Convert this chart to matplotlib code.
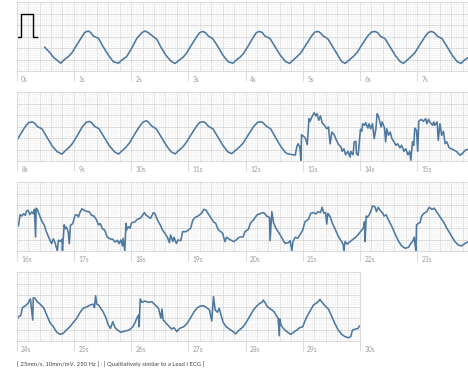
import matplotlib
matplotlib.use('Agg')
import matplotlib.pyplot as plt
from matplotlib.ticker import MultipleLocator
from matplotlib.transforms import offset_copy

# calibration pulse: 1 mV for 0.2 s
pulse_t = [0.0, 0.08, 0.08, 0.28, 0.28, 0.36]
pulse_mv = [0.0, 0.0, 1.0, 1.0, 0.0, 0.0]

# strip 1 (0-8 s)
strip1_t = [0.49, 0.58, 0.64, 0.70, 0.77, 0.84, 0.90, 0.96, 1.05, 1.14, 1.19, 1.25, 1.29, 1.34, 1.43,
            1.51, 1.60, 1.69, 1.78, 1.84, 1.92, 2.01, 2.10, 2.19, 2.24, 2.30, 2.39, 2.45, 2.52, 2.61,
            2.70, 2.77, 2.84, 2.91, 2.97, 3.06, 3.15, 3.20, 3.25, 3.30, 3.35, 3.43, 3.52, 3.61, 3.70,
            3.78, 3.85, 3.91, 3.97, 4.06, 4.14, 4.19, 4.24, 4.29, 4.34, 4.43, 4.52, 4.61, 4.70, 4.77,
            4.84, 4.90, 4.97, 5.06, 5.15, 5.21, 5.27, 5.31, 5.36, 5.44, 5.53, 5.62, 5.68, 5.74, 5.81,
            5.88, 5.95, 6.04, 6.13, 6.20, 6.26, 6.31, 6.36, 6.44, 6.53, 6.62, 6.70, 6.76, 6.83, 6.89,
            6.96, 7.05, 7.14, 7.20, 7.25, 7.30, 7.35, 7.44, 7.53, 7.62, 7.70, 7.77, 7.83, 7.89]
strip1_mv = [-0.47, -0.70, -0.90, -1.02, -1.16, -0.99, -0.88, -0.73, -0.37, -0.01, 0.18, 0.24, 0.18, 0.02, -0.08,
             -0.44, -0.80, -1.10, -1.16, -1.02, -0.88, -0.51, -0.08, 0.17, 0.24, 0.17, -0.01, -0.12, -0.46, -0.82,
             -1.08, -1.17, -1.03, -0.90, -0.72, -0.35, 0.00, 0.17, 0.22, 0.17, 0.02, -0.10, -0.45, -0.83, -1.10,
             -1.16, -1.00, -0.89, -0.72, -0.36, -0.02, 0.17, 0.22, 0.18, 0.02, -0.09, -0.46, -0.82, -1.09, -1.17,
             -1.01, -0.88, -0.70, -0.35, 0.00, 0.19, 0.22, 0.16, 0.02, -0.10, -0.47, -0.84, -1.08, -1.17, -1.03,
             -0.88, -0.70, -0.34, 0.00, 0.19, 0.22, 0.17, 0.01, -0.10, -0.46, -0.83, -1.08, -1.17, -1.02, -0.88,
             -0.71, -0.35, 0.00, 0.18, 0.22, 0.17, 0.02, -0.10, -0.47, -0.84, -1.09, -1.17, -1.02, -0.92]

# strip 2 (8-16 s)
strip2_t = [8.00, 8.08, 8.15, 8.21, 8.27, 8.31, 8.36, 8.44, 8.53, 8.62, 8.71, 8.79, 8.85, 8.92, 8.98,
            9.07, 9.15, 9.21, 9.27, 9.31, 9.36, 9.44, 9.53, 9.62, 9.71, 9.78, 9.85, 9.91, 9.97, 10.06,
            10.15, 10.21, 10.27, 10.31, 10.36, 10.44, 10.53, 10.62, 10.70, 10.77, 10.84, 10.90, 10.96, 11.05, 11.14,
            11.20, 11.26, 11.30, 11.35, 11.43, 11.52, 11.61, 11.69, 11.76, 11.83, 11.89, 11.96, 12.05, 12.14, 12.21,
            12.27, 12.31, 12.36, 12.44, 12.53, 12.62, 12.69, 12.72, 12.80, 12.87,
            12.90, 12.92, 12.95, 12.97, 12.98, 13.03, 13.05, 13.08, 13.11, 13.13, 13.16, 13.20, 13.23, 13.25, 13.28,
            13.31, 13.34, 13.38, 13.42, 13.45, 13.48, 13.51, 13.55, 13.59, 13.63, 13.67, 13.69, 13.72, 13.75, 13.79,
            13.83, 13.84, 13.88, 13.90, 13.93, 13.94, 13.97, 14.01, 14.03, 14.05, 14.08, 14.10, 14.14, 14.16, 14.19,
            14.22, 14.25, 14.28, 14.30, 14.33, 14.37, 14.39, 14.43, 14.45, 14.47, 14.50, 14.53, 14.56, 14.59, 14.63,
            14.66, 14.70, 14.73, 14.77, 14.80, 14.84, 14.87, 14.89, 14.92, 14.94, 14.96, 14.99, 15.01, 15.03, 15.07,
            15.11, 15.15, 15.17, 15.20, 15.23, 15.27, 15.29, 15.31, 15.35, 15.37, 15.40, 15.43, 15.46, 15.49, 15.52,
            15.56, 15.60, 15.65, 15.70, 15.75, 15.79, 15.84, 15.89]
strip2_mv = [-0.62, -0.28, 0.00, 0.17, 0.20, 0.15, 0.00, -0.10, -0.47, -0.85, -1.10, -1.20, -1.05, -0.90, -0.72,
             -0.35, 0.00, 0.17, 0.22, 0.16, 0.01, -0.10, -0.47, -0.84, -1.10, -1.20, -1.04, -0.90, -0.72, -0.34,
             0.01, 0.20, 0.25, 0.17, 0.02, -0.10, -0.47, -0.84, -1.10, -1.19, -1.03, -0.90, -0.71, -0.35, 0.00,
             0.18, 0.21, 0.16, 0.01, -0.10, -0.47, -0.84, -1.10, -1.18, -1.03, -0.90, -0.72, -0.36, -0.01, 0.18,
             0.21, 0.16, 0.02, -0.10, -0.50, -0.88, -1.11, -1.17, -1.22, -1.24,
             -0.85, -0.75, -0.89, -1.47, -0.36, -0.46, -0.53, -0.79, 0.34, 0.23, 0.41, 0.60, 0.46, 0.56, 0.27,
             0.46, 0.17, 0.05, -0.10, -0.02, -0.75, -0.24, -0.36, -0.60, -0.79, -0.89, -1.08, -0.97, -1.23, -1.08,
             -1.33, -1.08, -1.23, -0.67, -0.64, -1.18, -1.25, -0.12, -0.21, 0.12, 0.05, 0.17, -0.07, 0.12, -0.10,
             0.12, -0.53, -0.10, 0.56, 0.40, -0.02, 0.20, -0.07, -0.67, -0.10, -0.38, -0.24, -0.53, -0.64, -0.82,
             -0.75, -0.93, -0.82, -1.08, -0.97, -1.23, -1.08, -1.47, -0.67, -0.82, -0.07, -0.17, -1.08, 0.23, 0.31,
             0.23, 0.34, 0.12, 0.31, 0.17, 0.05, 0.20, 0.05, 0.20, -0.60, 0.12, -0.38, -0.21, -0.75, -0.67,
             -0.93, -0.97, -1.03, -1.11, -1.25, -1.18, -1.03, -0.99]

# strip 3 (16-24 s)
strip3_t = [16.01, 16.03, 16.06, 16.09, 16.12, 16.15, 16.17, 16.20, 16.23, 16.26, 16.29, 16.31, 16.33, 16.34, 16.36,
            16.40, 16.44, 16.48, 16.52, 16.57, 16.61, 16.64, 16.67, 16.71, 16.73, 16.76, 16.79, 16.80, 16.83, 16.85,
            16.87, 16.90, 16.92, 16.94, 16.98, 17.02, 17.05, 17.08, 17.11, 17.14, 17.18, 17.22, 17.27, 17.31, 17.35,
            17.39, 17.43, 17.46, 17.50, 17.54, 17.58, 17.63, 17.68, 17.72, 17.76, 17.79, 17.82, 17.85, 17.86, 17.89,
            17.91, 17.92, 17.95, 17.98, 18.01, 18.07, 18.11, 18.16, 18.19, 18.23, 18.26, 18.30, 18.34, 18.39, 18.42,
            18.46, 18.51, 18.55, 18.59, 18.63, 18.67, 18.69, 18.73, 18.75, 18.79, 18.82, 18.87, 18.90, 18.96, 19.00,
            19.04, 19.08, 19.12, 19.17, 19.23, 19.27, 19.31, 19.35, 19.39, 19.44, 19.48, 19.52, 19.57, 19.60, 19.64,
            19.67, 19.72, 19.76, 19.80, 19.85, 19.89, 19.96, 19.99, 20.05, 20.09, 20.14, 20.20, 20.27, 20.32, 20.37,
            20.42, 20.43, 20.46, 20.49, 20.53, 20.59, 20.65, 20.69, 20.75, 20.78, 20.81, 20.83, 20.87, 20.91, 20.95,
            21.00, 21.04, 21.10, 21.14, 21.19, 21.23, 21.27, 21.31, 21.34, 21.37, 21.40, 21.42, 21.44, 21.48, 21.52,
            21.56, 21.62, 21.68, 21.71, 21.72, 21.74, 21.78, 21.83, 21.88, 21.95, 22.01, 22.06, 22.08, 22.09, 22.11,
            22.13, 22.16, 22.19, 22.22, 22.26, 22.29, 22.32, 22.35, 22.40, 22.42, 22.46, 22.50, 22.56, 22.61, 22.67,
            22.73, 22.79, 22.85, 22.89, 22.92, 22.95, 22.96, 22.98, 22.99, 23.02, 23.05, 23.08, 23.12, 23.17, 23.21,
            23.26, 23.30, 23.34, 23.39, 23.46, 23.52, 23.59, 23.66, 23.72, 23.78, 23.82, 23.90]
strip3_mv = [-0.31, -0.41, 0.08, 0.02, 0.12, 0.05, 0.23, 0.27, 0.08, 0.20, 0.12, 0.31, -0.89, 0.36, 0.31,
             0.05, -0.21, -0.36, -0.67, -0.97, -1.18, -0.97, -1.14, -1.50, -1.03, -1.08, -0.99, -1.50, -0.36, -0.53,
             -0.46, -0.67, -1.18, -0.38, -0.31, 0.05, 0.08, -0.02, 0.20, 0.34, 0.27, 0.23, 0.20, 0.05, 0.02,
             -0.12, -0.36, -0.31, -0.53, -0.60, -0.89, -0.97, -0.99, -1.11, -1.03, -1.18, -1.02, -1.28, -0.95, -1.49,
             -0.30, -0.59, -0.44, -0.51, -0.27, -0.23, -0.12, -0.08, 0.02, 0.17, 0.07, -0.01, -0.08, 0.17, 0.11,
             -0.15, -0.37, -0.59, -0.73, -0.88, -1.14, -0.80, -1.09, -0.90, -1.17, -1.02, -1.05, -0.66, -0.66, -0.59,
             -0.51, -0.15, -0.04, 0.02, 0.14, 0.31, 0.28, 0.11, -0.04, -0.23, -0.30, -0.56, -0.66, -0.73, -1.09,
             -0.90, -0.99, -1.05, -1.09, -0.99, -0.90, -0.88, -0.66, -0.56, -0.27, -0.15, 0.07, 0.14, 0.17, 0.02,
             -0.04, -1.05, 0.21, -0.27, -0.51, -0.73, -0.99, -1.17, -1.14, -1.05, -1.49, -1.09, -0.90, -0.95, -0.80,
             -0.59, -0.23, -0.12, 0.14, 0.17, 0.11, 0.21, 0.17, 0.40, 0.14, 0.17, -0.33, 0.14, -0.01, -0.30,
             -0.51, -0.85, -1.09, -1.24, -1.49, -1.09, -1.20, -1.09, -0.99, -0.85, -0.66, -0.51, -0.23, -1.09, 0.02,
             -0.04, 0.07, 0.21, 0.46, 0.43, 0.21, 0.40, 0.28, 0.14, 0.02, 0.07, -0.15, -0.44, -0.73, -1.05,
             -1.28, -1.38, -1.34, -1.17, -1.09, -0.90, -1.14, -1.49, -0.37, -0.30, -0.27, 0.02, 0.14, 0.21, 0.40,
             0.31, 0.36, 0.21, 0.02, -0.23, -0.51, -0.80, -1.09, -1.24, -1.28, -1.20, -1.09]

# strip 4 (24-30 s)
strip4_t = [24.00, 24.03, 24.07, 24.10, 24.15, 24.20, 24.24, 24.28, 24.29, 24.32, 24.36, 24.41, 24.47, 24.52, 24.58,
            24.64, 24.70, 24.76, 24.81, 24.87, 24.93, 24.99, 25.05, 25.11, 25.16, 25.23, 25.29, 25.34, 25.36, 25.38,
            25.40, 25.43, 25.47, 25.51, 25.56, 25.60, 25.64, 25.68, 25.72, 25.76, 25.82, 25.89, 25.97, 26.03, 26.07,
            26.10, 26.13, 26.14, 26.16, 26.19, 26.24, 26.30, 26.36, 26.42, 26.48, 26.52, 26.54, 26.56, 26.59, 26.65,
            26.71, 26.75, 26.80, 26.85, 26.92, 26.98, 27.04, 27.10, 27.16, 27.22, 27.27, 27.32, 27.37, 27.41, 27.44,
            27.47, 27.51, 27.54, 27.58, 27.61, 27.66, 27.72, 27.78, 27.83, 27.87, 27.96, 28.02, 28.08, 28.14, 28.20,
            28.25, 28.29, 28.31, 28.34, 28.38, 28.44, 28.50, 28.55, 28.57, 28.59, 28.60, 28.62, 28.66, 28.72, 28.79,
            28.84, 28.90, 28.95, 29.00, 29.06, 29.12, 29.19, 29.26, 29.30, 29.33, 29.39, 29.45, 29.51, 29.56, 29.62,
            29.68, 29.74, 29.80, 29.84, 29.87, 29.93, 29.97, 29.99]
strip4_mv = [-0.63, -0.44, -0.40, -0.05, 0.03, 0.14, 0.33, -0.59, 0.38, 0.36, 0.21, 0.10, -0.05, -0.34, -0.69,
             -0.88, -1.12, -1.21, -1.17, -1.02, -0.88, -0.69, -0.51, -0.25, -0.08, -0.01, 0.07, 0.10, -0.05, 0.47,
             0.10, 0.07, -0.08, -0.23, -0.49, -0.80, -0.95, -0.66, -0.92, -1.02, -1.12, -1.07, -1.02, -0.88, -0.69,
             -0.51, -0.37, -0.88, 0.33, 0.18, 0.24, 0.18, 0.21, 0.07, -0.08, -0.51, -0.11, -0.59, -0.66, -0.83,
             -0.98, -0.92, -1.09, -0.95, -0.88, -0.73, -0.49, -0.23, -0.05, 0.03, 0.03, -0.05, -0.15, -0.63, 0.43,
             -0.15, -0.25, -0.08, -0.44, -0.69, -0.88, -0.98, -1.09, -1.19, -1.07, -0.88, -0.66, -0.40, -0.15, 0.03,
             0.14, 0.18, 0.28, 0.18, -0.01, -0.11, -0.23, -0.44, -0.51, -1.27, -0.54, -0.80, -0.95, -1.09, -1.21,
             -1.12, -1.02, -0.92, -0.88, -0.51, -0.23, 0.07, 0.18, 0.31, 0.21, 0.03, -0.11, -0.44, -0.73, -1.02,
             -1.21, -1.31, -1.36, -1.31, -1.02, -0.98, -0.95, -0.85]

strips = [(0, 8, strip1_t, strip1_mv), (8, 8, strip2_t, strip2_mv),
          (16, 8, strip3_t, strip3_mv), (24, 6, strip4_t, strip4_mv)]

footnote = '[ 25mm/s, 10mm/mV, 250 Hz ] : [ Qualitatively similar to a Lead I ECG ]'

plt.rcParams['font.family'] = ['Lato', 'DejaVu Sans']

W, H = 468, 373
fig = plt.figure(figsize=(W / 100, H / 100), dpi=100)

px_per_s = 57.2
left = 16.7
strip_h = 69
strip_top = [2, 92, 182, 272]
grid_major = '#dcdcdc'
grid_minor = '#f2f2f2'
trace = '#4d78a0'

for top, (start, length, t, mv) in zip(strip_top, strips):
    ax = fig.add_axes([left / W, 1 - (top + strip_h) / H, length * px_per_s / W, strip_h / H])
    ax.set_xlim(start, start + length)
    ax.set_ylim(-1.5, 1.5)
    ax.xaxis.set_major_locator(MultipleLocator(0.2))
    ax.xaxis.set_minor_locator(MultipleLocator(0.04))
    ax.yaxis.set_major_locator(MultipleLocator(0.5))
    ax.yaxis.set_minor_locator(MultipleLocator(0.1))
    ax.grid(which='minor', color=grid_minor, lw=0.45)
    ax.grid(which='major', color=grid_major, lw=0.7)
    ax.set_axisbelow(True)
    ax.tick_params(which='both', length=0, labelbottom=False, labelleft=False)
    for sp in ax.spines.values():
        sp.set_color(grid_major)
        sp.set_linewidth(0.8)

    ax.plot(t, mv, color=trace, lw=1.15, solid_joinstyle='round')
    if start == 0:
        ax.plot(pulse_t, pulse_mv, color='black', lw=1.0)

    # one-second marks below each strip
    secs = list(range(start, start + length + (1 if length < 8 else 0)))
    ax.vlines(secs, -10 / strip_h, 0, transform=ax.get_xaxis_transform(),
              clip_on=False, colors=grid_major, lw=0.8)
    lab = offset_copy(ax.get_xaxis_transform(), fig=fig, x=4.5, y=-8, units='dots')
    for s in secs:
        ax.text(s, 0, f'{s}s', transform=lab, ha='left', va='center',
                fontsize=4.8, color='#9c9c9c')

fig.text(17 / W, 1 - 364 / H, footnote, ha='left', va='center', fontsize=4.3, color='#444444')

fig.savefig('out.png', dpi=100)
